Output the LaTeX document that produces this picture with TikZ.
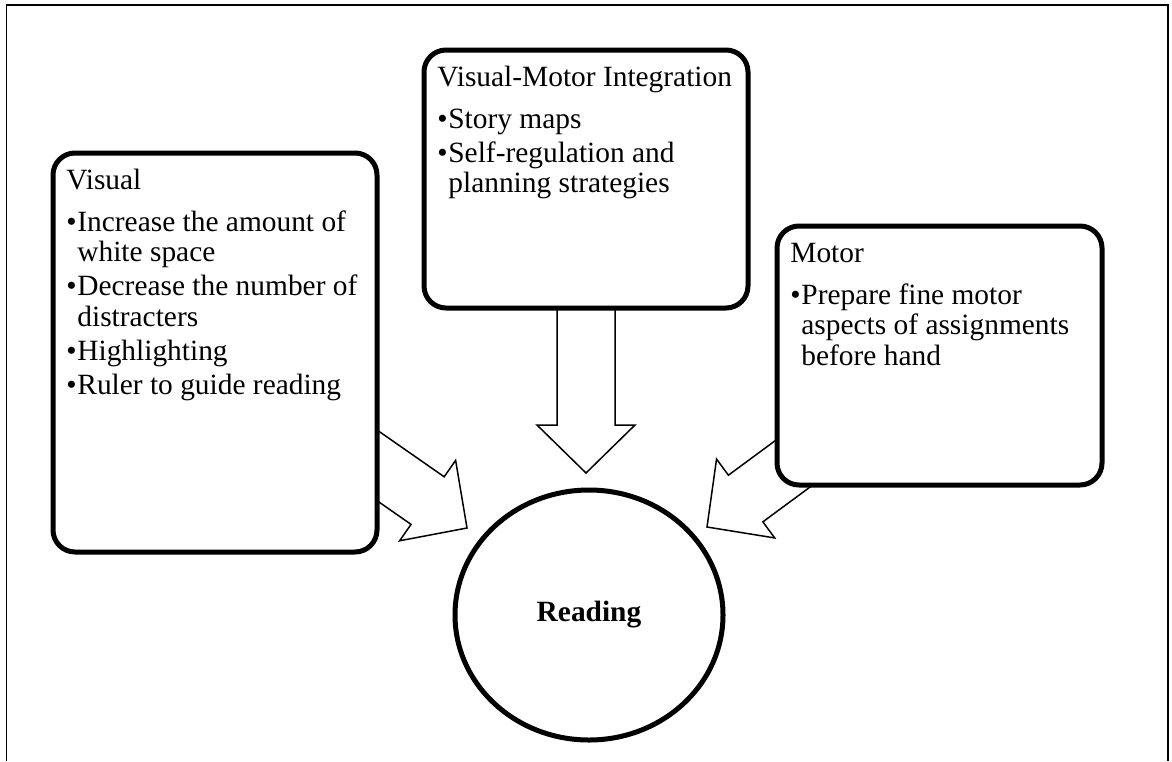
\documentclass[tikz,border=0pt]{standalone}
\usepackage{fontspec}
\setmainfont{Liberation Serif}
\usepackage{tikz}
\usetikzlibrary{calc,backgrounds,shapes.geometric}
\tikzset{
  topic/.style={draw,line width=2.5pt,rounded corners=11pt,fill=white,inner xsep=6.7pt,inner ysep=7.3pt},
  hub/.style={draw,ellipse,line width=2.5pt,fill=white,minimum width=134pt,minimum height=125pt,inner sep=0pt,
    font=\fontsize{14.7}{15.3}\selectfont\bfseries},
  flow/.style={draw,line width=0.75pt,fill=white,line join=miter},
  frame/.style={line width=0.6pt},
  every node/.style={font=\fontsize{14.7}{15.3}\selectfont}
}
\newcommand{\topichead}[1]{\strut#1\par\vspace{5.7pt}}
\newcommand{\topicitem}[1]{\noindent\hangindent=5.5pt\hangafter=1\makebox[5.5pt][l]{\textbullet}#1\par\vspace{1.7pt}}
\newcommand{\topictext}[3]{\begin{minipage}[t][#2][t]{#1}\fontsize{14.7}{15.3}\selectfont\raggedright\parindent=0pt #3\end{minipage}}
% block arrow from a tail point to a tip point
\newcommand{\blockarrow}[2]{%
  \coordinate (ba-h) at ($(#2)!24pt!(#1)$);
  \draw[flow] ($(#1)!14.5pt!90:(#2)$) -- ($(ba-h)!14.5pt!90:(#2)$) -- ($(ba-h)!24.5pt!90:(#2)$)
    -- (#2) -- ($(ba-h)!24.5pt!-90:(#2)$) -- ($(ba-h)!14.5pt!-90:(#2)$) -- ($(#1)!14.5pt!-90:(#2)$) -- cycle;
}

\begin{document}
\begin{tikzpicture}[x=0.5pt,y=-0.5pt]
  \useasboundingbox (0,0) rectangle (1172,761);
  \draw[frame] (6.5,761) -- (6.5,5) -- (1168,5) -- (1168,761);

  \node[topic] (vis) at (215,352.5) {\topictext{148.6pt}{184.9pt}{%
    \topichead{Visual}
    \topicitem{Increase the amount of\newline white space}
    \topicitem{Decrease the number of\newline distracters}
    \topicitem{Highlighting}
    \topicitem{Ruler to guide reading}}};
  \node[topic] (vmi) at (586,179) {\topictext{148.6pt}{114.4pt}{%
    \topichead{Visual-Motor Integration}
    \topicitem{Story maps}
    \topicitem{Self-regulation and\newline planning strategies}}};
  \node[topic] (mot) at (939.5,355.5) {\topictext{149.1pt}{114.9pt}{%
    \topichead{Motor}
    \topicitem{Prepare fine motor\newline aspects of assignments\newline before hand}}};
  \node[hub] (read) at (589,615) {Reading};

  \coordinate (visTip) at (467,528);
  \coordinate (vmiTip) at (586,473);
  \coordinate (motTip) at (707,527);
  \begin{scope}[on background layer]
    \blockarrow{vis.center}{visTip}
    \blockarrow{vmi.center}{vmiTip}
    \blockarrow{mot.center}{motTip}
  \end{scope}
\end{tikzpicture}
\end{document}
